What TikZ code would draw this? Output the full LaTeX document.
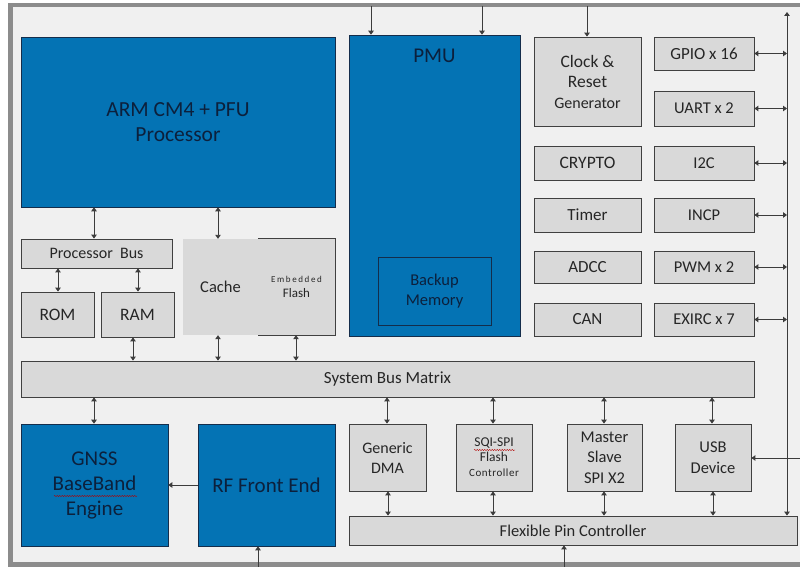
\documentclass[tikz,border=0pt]{standalone}
\usepackage{fontspec}
\setmainfont{Carlito}
\usetikzlibrary{arrows.meta,decorations.pathmorphing}
\definecolor{blueC}{RGB}{4,115,180}
\definecolor{blueB}{RGB}{20,45,75}
\definecolor{navy}{RGB}{12,32,60}
\definecolor{gfill}{RGB}{217,217,217}
\definecolor{gborder}{RGB}{64,64,64}
\definecolor{gtext}{RGB}{38,38,38}
\definecolor{bgc}{RGB}{240,240,240}
\definecolor{framec}{RGB}{140,140,140}
\definecolor{arrowc}{RGB}{60,60,60}
\newcommand{\fs}[2]{\fontsize{#1}{#2}\selectfont}
\begin{document}
\begin{tikzpicture}[x=1pt,y=-1pt,
  blk/.style={draw=blueB, fill=blueC, text=navy, line width=0.6pt, inner sep=0pt, align=center},
  gbox/.style={draw=gborder, fill=gfill, text=gtext, line width=0.8pt, inner sep=0pt, align=center},
  tipA/.tip={Triangle[width=5.5pt,length=4pt]},
  dbl/.style={tipA-tipA, draw=arrowc, line width=0.9pt},
  sgl/.style={-tipA, draw=arrowc, line width=0.9pt},
  wavy/.style={draw=red!70!black, line width=0.4pt, decorate, decoration={snake, amplitude=0.6pt, segment length=2.5pt}}
]
\useasboundingbox (0,0) rectangle (800,567);
\clip (0,0) rectangle (800,567);
\fill[white] (0,0) rectangle (800,567);
% frame
\draw[framec, line width=4.5pt, fill=bgc] (10.5,5) rectangle (810,564.5);

% processor
\node[blk, minimum width=314pt, minimum height=170pt, font=\fs{21.5}{25}] (arm) at (178,122) {ARM CM4 + PFU\\Processor};
% PMU
\node[blk, minimum width=171pt, minimum height=301pt] (pmu) at (434.5,185.5) {};
\node[text=navy, font=\fs{21}{24}, inner sep=0pt] (pmut) at (434.5,56) {PMU};
\node[blk, draw=blueB, minimum width=113pt, minimum height=68pt, font=\fs{16.5}{20}] (bkp) at (434.5,291) {Backup\\Memory};

% peripherals column 1
\node[gbox, minimum width=107pt, minimum height=89pt, font=\fs{17.5}{20.5}] (clk) at (587.5,81.5)
  {Clock \&\\Reset\\{\fontsize{16}{20.5}\selectfont Generator}};
\node[gbox, minimum width=107pt, minimum height=34pt, font=\fs{17.5}{20}] (crypto) at (587.5,163) {CRYPTO};
\node[gbox, minimum width=107pt, minimum height=34pt, font=\fs{17}{20}] (timer) at (587.5,215) {Timer};
\node[gbox, minimum width=107pt, minimum height=32pt, font=\fs{17}{20}] (adcc) at (587.5,267) {ADCC};
\node[gbox, minimum width=107pt, minimum height=33pt, font=\fs{17}{20}] (can) at (587.5,319.5) {CAN};
% peripherals column 2
\node[gbox, minimum width=100pt, minimum height=33pt, font=\fs{17}{20}] (gpio) at (704,53.5) {GPIO x 16};
\node[gbox, minimum width=100pt, minimum height=35pt, font=\fs{16.5}{20}] (uart) at (704,108.5) {UART x 2};
\node[gbox, minimum width=100pt, minimum height=34pt, font=\fs{16.5}{20}] (i2c) at (704,163) {I2C};
\node[gbox, minimum width=100pt, minimum height=34pt, font=\fs{16.5}{20}] (incp) at (704,215) {INCP};
\node[gbox, minimum width=100pt, minimum height=32pt, font=\fs{16.5}{20}] (pwm) at (704,267) {PWM x 2};
\node[gbox, minimum width=100pt, minimum height=33pt, font=\fs{16.5}{20}] (exirc) at (704,319.5) {EXIRC x 7};

% memory side
\node[gbox, minimum width=151pt, minimum height=29pt, font=\fs{16}{18}] (pbus) at (96.5,253.5) {Processor\ \ Bus};
\node[gbox, minimum width=73pt, minimum height=45pt, font=\fs{17.5}{20}] (rom) at (57.5,314.5) {ROM};
\node[gbox, minimum width=73pt, minimum height=45pt, font=\fs{17.5}{20}] (ram) at (137.5,314.5) {RAM};
\node[fill=gfill, inner sep=0pt, minimum width=77pt, minimum height=96pt, align=center, text=gtext, font=\fs{13}{14.5}] (flash) at (296.5,287)
  {{\fontsize{9}{14.5}\selectfont\addfontfeature{LetterSpace=18}Embedded}\\Flash};
\draw[gborder, line width=0.8pt] (flash.north west) -- (flash.north east) -- (flash.south east) -- (flash.south west);
\node[fill=gfill, inner sep=0pt, minimum width=75.5pt, minimum height=96pt, text=gtext, font=\fs{16.5}{18}] (cache) at (220.5,287) {Cache};

% system bus
\node[gbox, minimum width=733pt, minimum height=36pt, font=\fs{17}{20}] (sbus) at (387.5,379) {System Bus Matrix};

% lower blocks
\node[blk, minimum width=147pt, minimum height=122pt, font=\fs{21}{25}] (gnss) at (94.5,485) {GNSS\\BaseBand\\Engine};
\node[blk, minimum width=137pt, minimum height=122pt, font=\fs{21}{24}] (rf) at (266.5,485) {RF Front End};
\node[gbox, minimum width=77pt, minimum height=67pt, font=\fs{16}{20}] (dma) at (387.5,457.5) {Generic\\DMA};
\node[gbox, minimum width=76pt, minimum height=67pt, font=\fs{13.5}{15}] (sqi) at (494,457.5)
  {SQI-SPI\\Flash\\{\fontsize{11}{15}\selectfont\addfontfeature{LetterSpace=5}Controller}};
\node[gbox, minimum width=75pt, minimum height=67pt, font=\fs{16.5}{20.5}] (spi) at (604.5,457.5) {Master\\Slave\\SPI X2};
\node[gbox, minimum width=76pt, minimum height=67pt, font=\fs{16.5}{20.5}] (usb) at (713,457.5) {USB\\Device};
\node[gbox, minimum width=448pt, minimum height=29pt, font=\fs{16.5}{19}] (flex) at (573,530.5) {Flexible Pin Controller};

% spell-check marks
\draw[wavy] (54,496) -- (137,496);
\draw[wavy] (474,450) -- (515,450);

% coordinates on the frame
\coordinate (t1) at (371,6);
\coordinate (t2) at (482,6);
\coordinate (t3) at (587,6);
\coordinate (rtop) at (787,12);
\coordinate (rin) at (800,458);
\coordinate (b1) at (258,567);
\coordinate (b2) at (564,567);

% top inputs
\draw[sgl] (t1) -- (371,0 |- pmu.north);
\draw[sgl] (t2) -- (482,0 |- pmu.north);
\draw[sgl] (t3) -- (587,0 |- clk.north);
% right bus
\draw[dbl] (787,0 |- flex.north) -- (rtop);
\foreach \n in {gpio,uart,i2c,incp,pwm,exirc}
  \draw[dbl] (\n.east) -- (787,0 |- \n.east);
\draw[sgl] (rin) -- (usb.east |- rin);

% processor side arrows
\draw[dbl] (94,0 |- arm.south) -- (94,0 |- pbus.north);
\draw[dbl] (218,0 |- arm.south) -- (218,0 |- cache.north);
\draw[dbl] (58,0 |- pbus.south) -- (58,0 |- rom.north);
\draw[dbl] (138,0 |- pbus.south) -- (138,0 |- ram.north);
\draw[dbl] (133,0 |- ram.south) -- (133,0 |- sbus.north);
\draw[dbl] (218,0 |- cache.south) -- (218,0 |- sbus.north);
\draw[dbl] (296,0 |- flash.south) -- (296,0 |- sbus.north);

% lower arrows
\draw[dbl] (94,0 |- sbus.south) -- (94,0 |- gnss.north);
\draw[dbl] (387,0 |- sbus.south) -- (387,0 |- dma.north);
\draw[dbl] (493,0 |- sbus.south) -- (493,0 |- sqi.north);
\draw[dbl] (604,0 |- sbus.south) -- (604,0 |- spi.north);
\draw[dbl] (712,0 |- sbus.south) -- (712,0 |- usb.north);
\draw[dbl] (388,0 |- dma.south) -- (388,0 |- flex.north);
\draw[dbl] (493,0 |- sqi.south) -- (493,0 |- flex.north);
\draw[dbl] (604,0 |- spi.south) -- (604,0 |- flex.north);
\draw[dbl] (713,0 |- usb.south) -- (713,0 |- flex.north);
\draw[sgl] (rf.west) -- (gnss.east);
\draw[sgl] (b1) -- (258,0 |- rf.south);
\draw[sgl] (b2) -- (564,0 |- flex.south);
\end{tikzpicture}
\end{document}
